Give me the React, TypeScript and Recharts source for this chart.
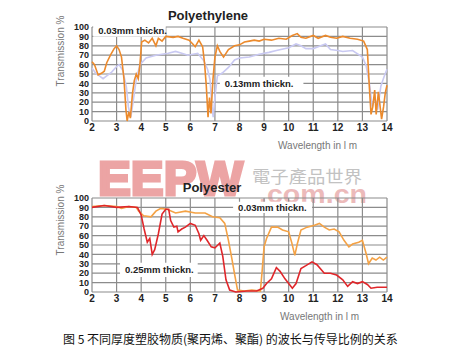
import { LineChart, Line, XAxis, YAxis, CartesianGrid, ReferenceArea } from 'recharts'

// wavelength (µm) / transmission (%) pairs
const xTicks = [2, 3, 4, 5, 6, 7, 8, 9, 10, 11, 12, 13, 14]
const yTicks = [0, 10, 20, 30, 40, 50, 60, 70, 80, 90, 100]

const pe003: [number, number][] = [
  [2.0, 63], [2.1, 60], [2.25, 49], [2.4, 51], [2.5, 53], [2.6, 62], [2.75, 70], [2.9, 77], [3.0, 80],
  [3.1, 76], [3.2, 68], [3.3, 45], [3.38, 12], [3.43, 0], [3.5, 10], [3.56, 3], [3.65, 30], [3.72, 43],
  [3.8, 50], [3.88, 45], [3.95, 60], [4.02, 84], [4.15, 86], [4.3, 83], [4.45, 88], [4.6, 80], [4.7, 88],
  [4.85, 85], [5.0, 90], [5.3, 89], [5.5, 90], [5.7, 88], [5.95, 86], [6.1, 82], [6.2, 79], [6.35, 86],
  [6.5, 79], [6.58, 61], [6.65, 37], [6.72, 4], [6.78, 25], [6.84, 8], [6.92, 44], [7.0, 68], [7.1, 80],
  [7.2, 74], [7.35, 68], [7.55, 76], [7.8, 80], [8.0, 81], [8.2, 84], [8.4, 85], [8.6, 86], [8.8, 85],
  [9.0, 87], [9.3, 86], [9.6, 88], [9.9, 87], [10.15, 91], [10.35, 93], [10.5, 89], [10.7, 88], [11.0, 91],
  [11.2, 88], [11.5, 91], [11.7, 89], [11.95, 88], [12.2, 90], [12.5, 88], [12.8, 87], [13.05, 85],
  [13.2, 76], [13.28, 37], [13.35, 7], [13.42, 15], [13.5, 33], [13.56, 7], [13.65, 31], [13.78, 2],
  [13.86, 15], [13.93, 30], [14.0, 38],
]

const pe013: [number, number][] = [
  [2.0, 56], [2.15, 51], [2.3, 48], [2.45, 45], [2.6, 48], [2.8, 52], [3.0, 58], [3.1, 60], [3.25, 54],
  [3.4, 36], [3.48, 15], [3.58, 4], [3.68, 22], [3.8, 44], [3.95, 60], [4.2, 67], [4.6, 70], [5.1, 72],
  [5.4, 74], [5.65, 72], [5.9, 70], [6.3, 72], [6.55, 64], [6.7, 55], [6.8, 44], [6.88, 15], [6.93, 4],
  [7.0, 25], [7.1, 48], [7.3, 51], [7.55, 57], [7.8, 65], [8.0, 67], [8.4, 68], [8.8, 71], [9.2, 73],
  [9.5, 75], [10.0, 78], [10.3, 82], [10.5, 80], [10.7, 77], [11.0, 77], [11.3, 80], [11.5, 82],
  [11.7, 76], [12.0, 75], [12.2, 74], [12.6, 75], [13.0, 68], [13.15, 59], [13.3, 37], [13.4, 15],
  [13.5, 25], [13.62, 12], [13.75, 37], [13.88, 47], [14.0, 55],
]

const pes003: [number, number][] = [
  [2.0, 91], [2.5, 92], [3.0, 91], [3.2, 89], [3.5, 91], [3.8, 90], [3.9, 86], [4.1, 81], [4.4, 80],
  [4.6, 86], [4.8, 89], [5.05, 88], [5.4, 84], [5.8, 86], [6.2, 84], [6.6, 84], [6.9, 80], [7.2, 79],
  [7.4, 73], [7.55, 55], [7.7, 34], [7.8, 19], [7.92, 2], [8.2, 1], [8.5, 2], [8.85, 1], [8.92, 22],
  [9.0, 48], [9.1, 57], [9.3, 69], [9.55, 69], [9.75, 66], [10.0, 64], [10.12, 53], [10.25, 39],
  [10.35, 51], [10.5, 66], [10.75, 69], [11.05, 71], [11.25, 73], [11.45, 69], [11.65, 66], [11.85, 67],
  [12.05, 64], [12.25, 55], [12.45, 48], [12.6, 51], [12.85, 53], [13.0, 55], [13.15, 41], [13.25, 30],
  [13.4, 36], [13.55, 34], [13.7, 37], [13.85, 34], [14.0, 37],
]

const pes025: [number, number][] = [
  [2.0, 90], [2.5, 92], [3.0, 90], [3.5, 91], [3.85, 90], [4.0, 82], [4.12, 67], [4.25, 53], [4.35, 57],
  [4.45, 40], [4.55, 45], [4.7, 62], [4.85, 83], [5.0, 88], [5.12, 88], [5.2, 76], [5.33, 69], [5.45, 70],
  [5.5, 64], [5.65, 67], [5.8, 69], [6.0, 73], [6.2, 71], [6.35, 62], [6.42, 55], [6.55, 60], [6.68, 55],
  [6.85, 48], [7.0, 47], [7.12, 50], [7.2, 52], [7.32, 38], [7.45, 13], [7.6, 2], [7.85, 0], [8.3, 1],
  [8.7, 1], [8.95, 4], [9.1, 9], [9.3, 14], [9.5, 26], [9.65, 22], [9.85, 14], [10.15, 4], [10.3, 9],
  [10.5, 25], [10.7, 28], [10.95, 32], [11.15, 29], [11.45, 20], [11.7, 20], [11.95, 18], [12.2, 13],
  [12.4, 6], [12.6, 11], [12.8, 9], [13.0, 11], [13.2, 8], [13.35, 4], [13.6, 5], [14.0, 5],
]

const rows = (pts: [number, number][]) => pts.map(([x, y]) => ({ x, y }))

const font = '"Liberation Sans", Arial, sans-serif'

type Note = { x1: number; x2: number; y1: number; y2: number; text: string }

function Panel({ top, marginTop, lines, notes }: {
  top: number
  marginTop: number
  lines: { data: [number, number][]; color: string }[]
  notes: Note[]
}) {
  return (
    <div style={{ position: 'absolute', left: 0, top }}>
      <LineChart width={457} height={marginTop + 94 + 20 + 8} margin={{ top: marginTop, right: 70, bottom: 8, left: 62 }}>
        <CartesianGrid stroke="#8c8c8c" strokeWidth={1.2} />
        <XAxis
          type="number"
          dataKey="x"
          domain={[2, 14]}
          ticks={xTicks}
          allowDuplicatedCategory={false}
          tickLine={false}
          axisLine={false}
          tickSize={0}
          tickMargin={3}
          height={20}
          tick={{ fontSize: 10, fontWeight: 700, fill: '#222', fontFamily: font }}
        />
        <YAxis
          type="number"
          domain={[0, 100]}
          ticks={yTicks}
          interval={0}
          tickLine={false}
          axisLine={false}
          tickSize={0}
          width={30}
          tickMargin={3}
          tick={{ fontSize: 9, fontWeight: 700, fill: '#222', fontFamily: font }}
        />
        {notes.map((n) => (
          <ReferenceArea
            key={n.text + n.x1}
            x1={n.x1}
            x2={n.x2}
            y1={n.y1}
            y2={n.y2}
            fill="#fff"
            fillOpacity={1}
            ifOverflow="visible"
            label={{ value: n.text, position: 'insideLeft', offset: 5, fontSize: 9.5, fontWeight: 700, fill: '#222', fontFamily: font }}
          />
        ))}
        {lines.map((l, i) => (
          <Line
            key={i}
            data={rows(l.data)}
            dataKey="y"
            type="linear"
            stroke={l.color}
            strokeWidth={1.6}
            dot={false}
            isAnimationActive={false}
          />
        ))}
      </LineChart>
    </div>
  )
}

export default function App() {
  const small = { fontSize: 10, fill: '#777', fontFamily: font }
  return (
    <div style={{ position: 'absolute', left: 0, top: 0, width: 457, height: 364, background: '#fff', overflow: 'hidden' }}>
      <svg width={457} height={364} style={{ position: 'absolute', left: 0, top: 0 }}>
        <text x={98} y={195} fontSize={48} fontWeight={700} fill="#eca4a4" stroke="#eca4a4" strokeWidth={3}
          textLength={145} lengthAdjust="spacingAndGlyphs" fontFamily={font}>EEPW</text>
        <text x={252} y={183} fontSize={17} fill="#c2c2c2" textLength={110} lengthAdjust="spacingAndGlyphs"
          fontFamily='"Noto Sans CJK TC", sans-serif'>電子產品世界</text>
        <text x={259} y={203} fontSize={25} fontWeight={700} fill="#ecbaba" textLength={108} lengthAdjust="spacingAndGlyphs"
          fontFamily={font}>.com.cn</text>
      </svg>
      <Panel
        top={0}
        marginTop={27}
        lines={[
          { data: pe013, color: '#c9c9f2' },
          { data: pe003, color: '#ec8a2c' },
        ]}
        notes={[
          { x1: 2.05, x2: 5.0, y1: 89.5, y2: 102, text: '0.03mm thickn.' },
          { x1: 7.2, x2: 10.6, y1: 33, y2: 47, text: '0.13mm thickn.' },
        ]}
      />
      <Panel
        top={160}
        marginTop={38}
        lines={[
          { data: pes003, color: '#f4a245' },
          { data: pes025, color: '#e0262a' },
        ]}
        notes={[
          { x1: 7.74, x2: 10.95, y1: 84, y2: 96, text: '0.03mm thickn.' },
          { x1: 3.14, x2: 6.3, y1: 16, y2: 31, text: '0.25mm thickn.' },
        ]}
      />
      <svg width={457} height={364} style={{ position: 'absolute', left: 0, top: 0, pointerEvents: 'none' }}>
        <text x={208} y={20} textAnchor="middle" fontSize={13} fontWeight={700} fill="#222" fontFamily={font}>Polyethylene</text>
        <text x={212} y={192} textAnchor="middle" fontSize={13} fontWeight={700} fill="#222" fontFamily={font}>Polyester</text>
        <text transform="translate(64,51) rotate(-90)" textAnchor="middle" {...small}>Transmission %</text>
        <text transform="translate(64,220) rotate(-90)" textAnchor="middle" {...small}>Transmission %</text>
        <text x={278} y={149} {...small}>Wavelength in l m</text>
        <text x={280} y={320} {...small}>Wavelength in l m</text>
        <text x={63} y={344} fontSize={12} fill="#111" fontFamily='"Noto Sans CJK SC", sans-serif'>图 5 不同厚度塑胶物质(聚丙烯、聚酯) 的波长与传导比例的关系</text>
      </svg>
    </div>
  )
}
